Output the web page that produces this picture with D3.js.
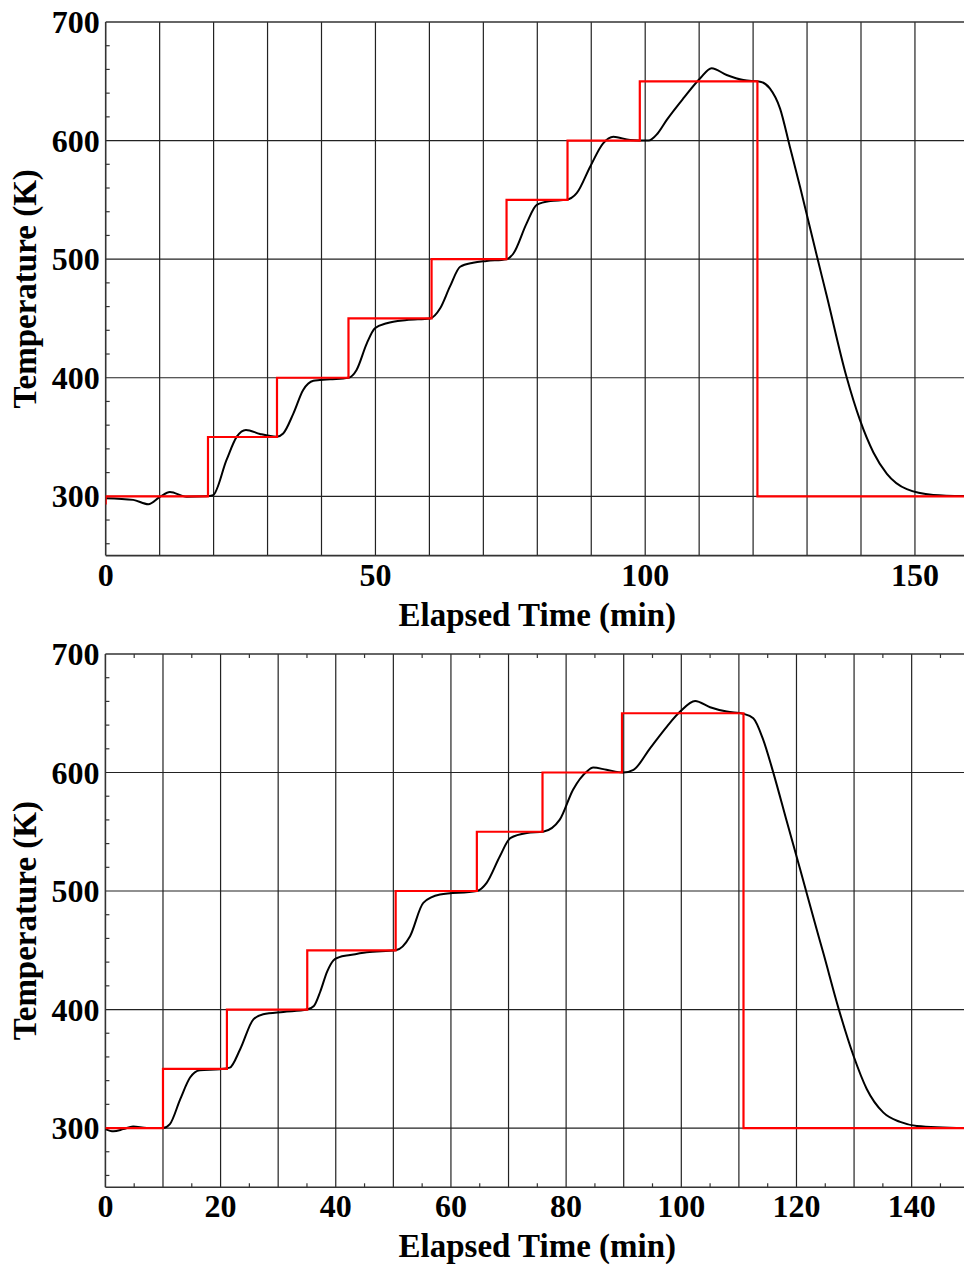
<!DOCTYPE html>
<html>
<head>
<meta charset="utf-8">
<script src="https://cdn.jsdelivr.net/npm/d3@7"></script>
<style>
html,body{margin:0;padding:0;background:#fff;}
svg text{font-family:"Liberation Serif","Times New Roman",serif;font-weight:bold;fill:#000;}
</style>
</head>
<body>
<svg id="chart" width="964" height="1268"></svg>
<script>
// ---------- data ----------
const yTicks = [300, 400, 500, 600, 700];
const xTicksTop = [0, 50, 100, 150];
const xTicksBottom = [0, 20, 40, 60, 80, 100, 120, 140];

// top panel: setpoint (step) and measured temperature
const topSetTimes = [0, 0, 18.96, 31.75, 45.0, 60.4, 74.3, 85.6, 99.0, 120.8, 160];
const topSetTemps = [293, 300, 350, 400, 450, 500, 550, 600, 650, 300, 300];
const topTimes = [0,5.1,7.9,10.1,11.9,15,18.7,19.9,22.4,24.3,26,28.6,31.7,32.9,34.8,36.6,38.5,39.7,41.6,45,46.5,48.4,49.9,52.1,55.8,60.1,62,63.8,65.7,68.1,70.6,74.3,75.6,78,79.9,82.4,85.4,87.3,89.8,92.2,94.1,97.2,100.6,102.3,104,107.1,110.2,112.3,115.1,118.2,121.3,123.1,125,126.8,128.7,131.8,133.6,137.3,139.8,142.3,144.8,148.5,153.4,159.1];
const topTemps = [298.4,297,293.3,299.7,303.7,299.7,300,301,330.7,350.3,356,352.6,350.3,353,370,389.7,397.5,398,398.7,400,406.6,429,441.7,446,448.7,450,458.6,476.8,493.6,497,498.5,500,505,530,545.7,549,550,555.6,578,597.7,603.3,600.5,600,606,617.4,635.7,652.5,661,655.3,651,649.7,644,627,595,561,503,470,401,364.4,337,319,306,301.2,300.2];

// bottom panel
const botSetTimes = [0, 10.0, 21.1, 35.05, 50.4, 64.5, 75.9, 89.7, 110.8, 150];
const botSetTemps = [300, 350, 400, 450, 500, 550, 600, 650, 300, 300];
const botTimes = [0,1.4,3.1,4.8,7.2,10,11.2,13,14.7,16.4,19.9,21.6,23.4,25.7,27.4,30.9,35,36.2,37.3,38.5,39.6,40.5,42.5,45.4,50.4,52.9,55.2,58.1,64.5,66.2,68.5,70.3,73.2,76,78.9,81.2,83.6,84.7,87,89.9,91.7,94.6,97.5,99.8,102.4,105,107.9,110.8,112.5,114.2,116,118.3,120.6,123.2,124.7,127.3,129.9,132.2,135.1,138,140.9,149.1];
const botTemps = [299.1,297.2,299.1,301.4,300,300,303.3,324.4,342.6,348.8,349.7,351,366.5,391.7,396,398,400,403,415,432,441.5,444,446,448.4,450,461.9,490,497,500,506.9,529.3,544.7,549,550,560.2,585.5,600.9,604.2,602.3,600,602.3,620.6,638.8,651.4,660.4,655.1,651.4,649.5,645.8,628,599.5,559,519,473,447,401,361,333,313,305.2,301.8,300];

const xLabel = "Elapsed Time (min)";
const yLabel = "Temperature (K)";

// ---------- drawing ----------
const svg = d3.select("#chart");
const W = 964;

function panel(cfg, idx) {
  const x = d3.scaleLinear().domain(cfg.xDomain).range([cfg.left, cfg.right]);
  const y = d3.scaleLinear().domain([250, 700]).range([cfg.bottom, cfg.top]);
  const g = svg.append("g");
  const clipId = "clip" + idx;
  svg.append("clipPath").attr("id", clipId).append("rect")
    .attr("x", cfg.left).attr("y", cfg.top - 1)
    .attr("width", W - cfg.left).attr("height", cfg.bottom - cfg.top + 2);

  const gridCol = "#222";
  // vertical grid every 10 min
  const vgrid = d3.range(10, cfg.xDomain[1] + 0.1, 10);
  g.selectAll(".vg").data(vgrid).join("line")
    .attr("x1", d => x(d)).attr("x2", d => x(d))
    .attr("y1", cfg.top).attr("y2", cfg.bottom)
    .attr("stroke", gridCol).attr("stroke-width", 1.2);
  // horizontal grid
  g.selectAll(".hg").data(yTicks.filter(d => d < 700)).join("line")
    .attr("x1", cfg.left).attr("x2", W)
    .attr("y1", d => y(d)).attr("y2", d => y(d))
    .attr("stroke", gridCol).attr("stroke-width", 1.2);

  // minor y ticks (every 20 K), inward from left axis
  const minorY = d3.range(260, 700, 20).filter(v => v % 100 !== 0);
  g.selectAll(".my").data(minorY).join("line")
    .attr("x1", cfg.left).attr("x2", cfg.left + 4)
    .attr("y1", d => y(d)).attr("y2", d => y(d))
    .attr("stroke", "#333").attr("stroke-width", 1.2);
  // minor x ticks (bottom panel: every 5 min offsets)
  if (cfg.minorX) {
    const mx = d3.range(5, cfg.xDomain[1], 10);
    g.selectAll(".mxb").data(mx).join("line")
      .attr("x1", d => x(d)).attr("x2", d => x(d))
      .attr("y1", cfg.bottom).attr("y2", cfg.bottom - 4)
      .attr("stroke", "#333").attr("stroke-width", 1.2);
    g.selectAll(".mxt").data(mx).join("line")
      .attr("x1", d => x(d)).attr("x2", d => x(d))
      .attr("y1", cfg.top).attr("y2", cfg.top + 4)
      .attr("stroke", "#333").attr("stroke-width", 1.2);
  }

  // frame: left, top, bottom
  g.append("line").attr("x1", cfg.left).attr("x2", cfg.left)
    .attr("y1", cfg.top).attr("y2", cfg.bottom).attr("stroke", "#333").attr("stroke-width", 1.6);
  g.append("line").attr("x1", cfg.left).attr("x2", W)
    .attr("y1", cfg.top).attr("y2", cfg.top).attr("stroke", "#333").attr("stroke-width", 1.6);
  g.append("line").attr("x1", cfg.left).attr("x2", W)
    .attr("y1", cfg.bottom).attr("y2", cfg.bottom).attr("stroke", "#333").attr("stroke-width", 1.6);

  // measured curve
  const meas = cfg.times.map((t, i) => [t, cfg.temps[i]]);
  const line = d3.line().x(d => x(d[0])).y(d => y(d[1])).curve(d3.curveMonotoneX);
  g.append("path").datum(meas).attr("d", line)
    .attr("fill", "none").attr("stroke", "#000").attr("stroke-width", 2)
    .attr("clip-path", `url(#${clipId})`);

  // setpoint step
  const sp = cfg.setTimes.map((t, i) => [t, cfg.setTemps[i]]);
  const stepLine = d3.line().x(d => x(d[0])).y(d => y(d[1])).curve(d3.curveStepAfter);
  g.append("path").datum(sp).attr("d", stepLine)
    .attr("fill", "none").attr("stroke", "#ff0000").attr("stroke-width", 2.2)
    .attr("clip-path", `url(#${clipId})`);

  // y tick labels
  g.selectAll(".yl").data(yTicks).join("text")
    .attr("x", cfg.left - 6).attr("y", d => y(d) + 11)
    .attr("text-anchor", "end").attr("font-size", 32)
    .text(d => d);
  // x tick labels
  g.selectAll(".xl").data(cfg.xTicks).join("text")
    .attr("x", d => x(d)).attr("y", cfg.bottom + 30)
    .attr("text-anchor", "middle").attr("font-size", 32)
    .text(d => d);
  // axis titles
  g.append("text").attr("x", (cfg.left + cfg.right) / 2).attr("y", cfg.bottom + 70)
    .attr("text-anchor", "middle").attr("font-size", 33).text(xLabel);
  g.append("text")
    .attr("transform", `translate(36,${(cfg.top + cfg.bottom) / 2}) rotate(-90)`)
    .attr("text-anchor", "middle").attr("font-size", 33).text(yLabel);
}

panel({
  left: 105.7, right: 105.7 + 160 * 5.395, top: 22, bottom: 555.6,
  xDomain: [0, 160], xTicks: xTicksTop, minorX: false,
  times: topTimes, temps: topTemps, setTimes: topSetTimes, setTemps: topSetTemps
}, 0);

panel({
  left: 105.4, right: 105.4 + 150 * 5.759, top: 654, bottom: 1187.3,
  xDomain: [0, 150], xTicks: xTicksBottom, minorX: true,
  times: botTimes, temps: botTemps, setTimes: botSetTimes, setTemps: botSetTemps
}, 1);
</script>
</body>
</html>
